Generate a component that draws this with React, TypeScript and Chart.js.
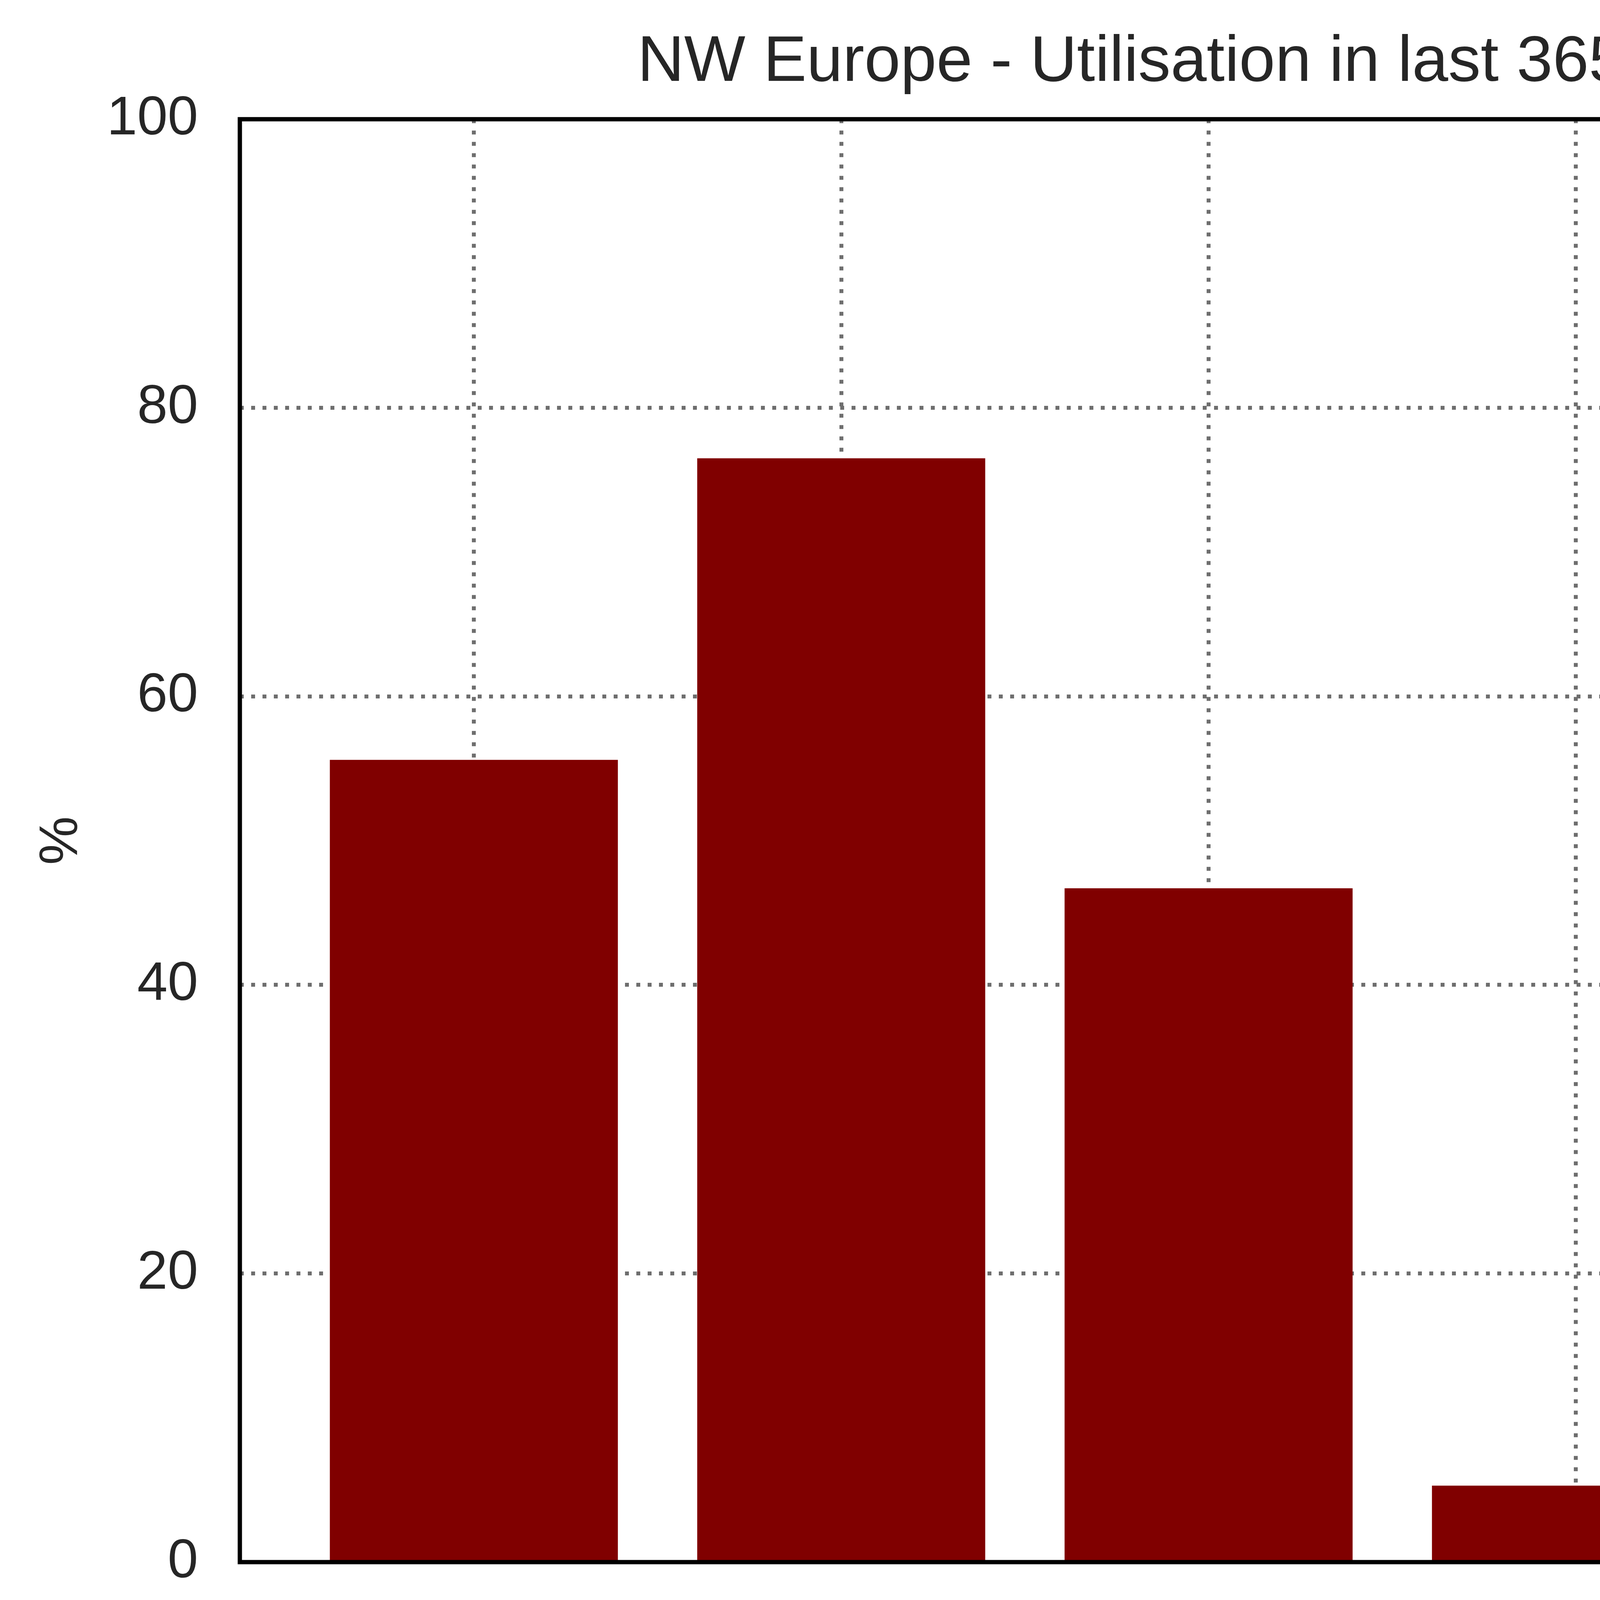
import { useEffect, useRef } from "react";
import { Chart } from "chart.js/auto";

const terminals = ["Zeebrugge", "Gate", "Eemshaven", "Isle of Grain", "Milford Haven"];
const utilisation = [55.6, 76.5, 46.7, 5.3, 28.7];
const yTicks = [0, 20, 40, 60, 80, 100];

const W = 5672;
const H = 5054;
const TEXT = "#262626";
const GRID = "#6e6e6e";

// frame round the plot area, like a matplotlib axes box
const frame = {
  id: "frame",
  afterDraw(chart: Chart) {
    const { ctx, chartArea: a } = chart;
    ctx.save();
    ctx.strokeStyle = "#000";
    ctx.lineWidth = 11;
    ctx.strokeRect(a.left, a.top, a.right - a.left, a.bottom - a.top);
    ctx.restore();
  },
};

export default function App() {
  const ref = useRef<HTMLCanvasElement>(null);

  useEffect(() => {
    document.body.style.margin = "0";
    if (!ref.current) return;
    Chart.defaults.font.family = "'Liberation Sans', Arial, sans-serif";
    const chart = new Chart(ref.current, {
      type: "bar",
      data: {
        datasets: [
          {
            data: utilisation.map((v, i) => ({ x: i, y: v })),
            backgroundColor: "#800000",
            borderWidth: 0,
            categoryPercentage: 1,
            barPercentage: 0.784,
          },
        ],
      },
      options: {
        animation: false,
        responsive: true,
        maintainAspectRatio: false,
        devicePixelRatio: 1,
        layout: { padding: { left: 0, right: 98, top: 0, bottom: 0 } },
        plugins: {
          legend: { display: false },
          tooltip: { enabled: false },
          title: {
            display: true,
            text: "NW Europe - Utilisation in last 365 days",
            color: TEXT,
            fullSize: false,
            font: { size: 166, weight: "normal" },
            padding: { top: 62, bottom: 44 },
          },
        },
        scales: {
          x: {
            type: "linear",
            min: -0.637,
            max: 4.637,
            offset: false,
            afterBuildTicks: (s: any) => {
              s.ticks = terminals.map((_, i) => ({ value: i }));
            },
            afterFit: (s: any) => {
              s.height = H - 3999;
            },
            ticks: {
              autoSkip: false,
              maxRotation: 90,
              minRotation: 90,
              padding: 108,
              color: TEXT,
              font: { size: 140 },
              callback: (v: any) => terminals[v as number] ?? "",
            },
            grid: { offset: false, drawTicks: false, color: GRID, lineWidth: 10 },
            border: { display: false, dash: [10, 19] },
          },
          y: {
            min: 0,
            max: 100,
            afterBuildTicks: (s: any) => {
              s.ticks = yTicks.map((v) => ({ value: v }));
            },
            afterFit: (s: any) => {
              s.width = 614;
            },
            ticks: { padding: 107, color: TEXT, font: { size: 140 } },
            grid: { drawTicks: false, color: GRID, lineWidth: 10 },
            border: { display: false, dash: [10, 19] },
            title: {
              display: true,
              text: "%",
              color: TEXT,
              font: { size: 140 },
              padding: { top: 74, bottom: 0 },
            },
          },
        },
      },
      plugins: [frame],
    });
    return () => chart.destroy();
  }, []);

  return (
    <div style={{ position: "absolute", left: 0, top: 0, width: W, height: H, background: "#fff" }}>
      <canvas ref={ref} />
    </div>
  );
}
